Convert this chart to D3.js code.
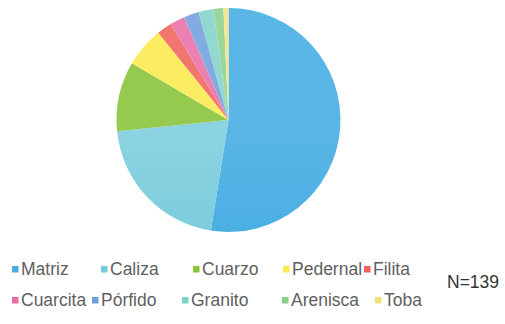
<!DOCTYPE html>
<html>
<head>
<meta charset="utf-8">
<script src="https://cdn.jsdelivr.net/npm/d3@7"></script>
<style>
  html, body { margin: 0; padding: 0; background: #fff; }
  svg { display: block; }
  text { font-family: "Liberation Sans", Arial, sans-serif; }
</style>
</head>
<body>
<svg id="chart" width="505" height="324"></svg>
<script>
// Rock types and their counts (N = 139)
const categories = ["Matriz", "Caliza", "Cuarzo", "Pedernal", "Filita",
                    "Cuarcita", "Pórfido", "Granito", "Arenisca", "Toba"];
const counts = [73, 29, 14, 8, 3, 3, 3, 3, 2, 1];
const colors = ["#47ade3", "#78cbdc", "#8cc63f", "#fae94b", "#f0605a",
                "#ea6aa6", "#6e9fdc", "#7fd2c8", "#8ccf88", "#f3e27c"];
const totalLabel = "N=139";

// Legend layout: two rows of five entries
const legendRows = [273, 304];
const legendX = [[12, 101, 193, 283, 364], [12, 92, 182, 282, 375]];

const svg = d3.select("#chart");
const cx = 228.5, cy = 120, r = 112;

const data = categories.map((c, i) => ({ name: c, value: counts[i], color: colors[i] }));

const color = d3.scaleOrdinal().domain(categories).range(colors);

// soft vertical shading on each slice
const defs = svg.append("defs");
data.forEach((d, i) => {
  const g = defs.append("linearGradient")
    .attr("id", "grad" + i)
    .attr("gradientUnits", "userSpaceOnUse")
    .attr("x1", 0).attr("y1", cy - r).attr("x2", 0).attr("y2", cy + r);
  const base = d3.hsl(color(d.name));
  g.append("stop").attr("offset", 0).attr("stop-color", base.brighter(0.2).formatHex());
  g.append("stop").attr("offset", 1).attr("stop-color", base.darker(0.15).formatHex());
});

const pie = d3.pie().value(d => d.value).sort(null);
const arc = d3.arc().innerRadius(0).outerRadius(r);

const pieG = svg.append("g").attr("transform", `translate(${cx},${cy})`);
pieG.selectAll("path")
  .data(pie(data))
  .join("path")
  .attr("d", arc)
  .attr("fill", (d, i) => `url(#grad${i})`)
  .attr("stroke", "none");

// Legend
const legend = svg.append("g");
data.forEach((d, i) => {
  const row = Math.floor(i / 5), col = i % 5;
  const x = legendX[row][col], y = legendRows[row];
  legend.append("rect")
    .attr("x", x).attr("y", y - 7)
    .attr("width", 6.5).attr("height", 6.5)
    .attr("fill", color(d.name));
  legend.append("text")
    .attr("x", x + 9).attr("y", y)
    .attr("dy", "0.1em")
    .attr("font-size", 17.5)
    .attr("fill", "#5f5f5f")
    .text(d.name);
});

svg.append("text")
  .attr("x", 447).attr("y", 288)
  .attr("font-size", 17.5)
  .attr("fill", "#333")
  .text(totalLabel);
</script>
</body>
</html>
